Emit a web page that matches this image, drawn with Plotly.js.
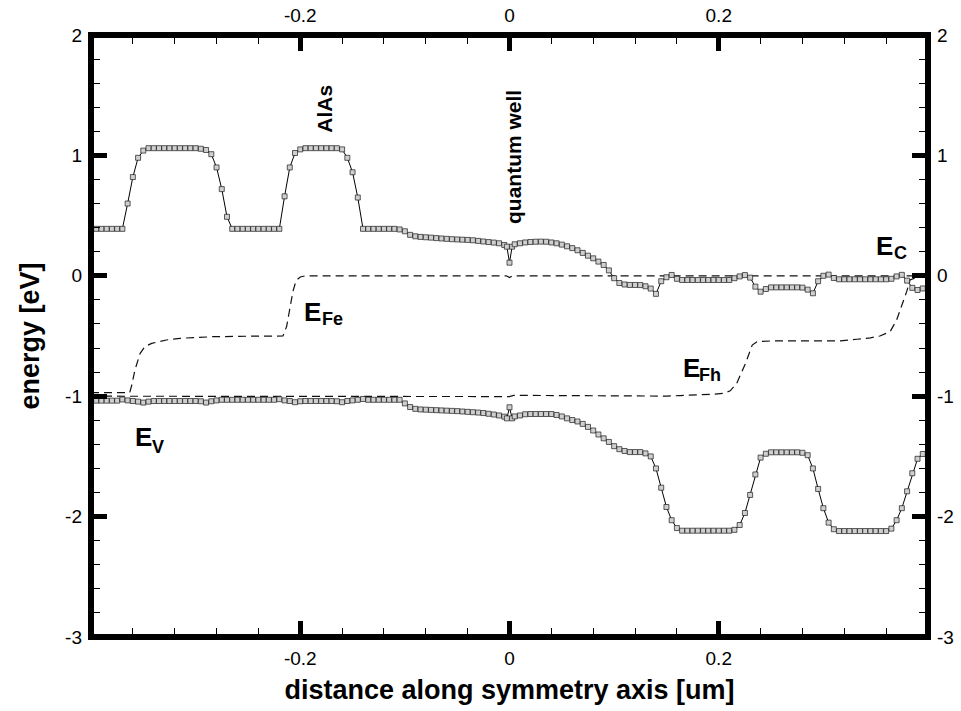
<!DOCTYPE html>
<html>
<head>
<meta charset="utf-8">
<script src="https://cdn.plot.ly/plotly-3.0.1.min.js"></script>
<style>
  html, body { margin: 0; padding: 0; background: #fff; }
  #chart { width: 961px; height: 711px; }
</style>
</head>
<body>
<div id="chart"></div>
<script>
// Mesh positions along the symmetry axis [um]
const dist = [
  -0.400,-0.395,-0.390,-0.385,-0.380,-0.375,-0.370,-0.365,-0.360,-0.355,
  -0.350,-0.345,-0.340,-0.335,-0.330,-0.325,-0.320,-0.315,-0.310,-0.305,
  -0.300,-0.295,-0.290,-0.285,-0.280,-0.275,-0.270,-0.265,-0.260,-0.255,
  -0.250,-0.245,-0.240,-0.235,-0.230,-0.225,-0.220,-0.215,-0.210,-0.205,
  -0.200,-0.195,-0.190,-0.185,-0.180,-0.175,-0.170,-0.165,-0.160,-0.155,
  -0.150,-0.145,-0.140,-0.135,-0.130,-0.125,-0.120,-0.115,-0.110,-0.105,
  -0.100,-0.095,-0.090,-0.085,-0.080,-0.075,-0.070,-0.065,-0.060,-0.055,
  -0.050,-0.045,-0.040,-0.035,-0.030,-0.025,-0.020,-0.015,-0.010,-0.005,
  -0.0025,0,0.0025,
  0.005,0.010,0.015,0.020,0.025,0.030,0.035,0.040,0.045,0.050,
  0.055,0.060,0.065,0.070,0.075,0.080,0.085,0.090,0.095,0.100,
  0.105,0.110,0.115,0.120,0.125,0.130,0.135,0.140,0.145,0.150,
  0.155,0.160,0.165,0.170,0.175,0.180,0.185,0.190,0.195,0.200,
  0.205,0.210,0.215,0.220,0.225,0.230,0.235,0.240,0.245,0.250,
  0.255,0.260,0.265,0.270,0.275,0.280,0.285,0.290,0.295,0.300,
  0.305,0.310,0.315,0.320,0.325,0.330,0.335,0.340,0.345,0.350,
  0.355,0.360,0.365,0.370,0.375,0.380,0.385,0.390,0.395,0.400
];

// Conduction band edge E_C [eV]
const ec = [
  0.39,0.39,0.39,0.39,0.39,0.39,0.39,0.60,0.82,0.98,
  1.04,1.06,1.06,1.06,1.06,1.06,1.06,1.06,1.06,1.06,
  1.06,1.055,1.045,1.01,0.90,0.72,0.49,0.39,0.39,0.39,
  0.39,0.39,0.39,0.39,0.39,0.39,0.39,0.66,0.90,1.02,
  1.05,1.06,1.06,1.06,1.06,1.06,1.06,1.06,1.05,0.98,
  0.86,0.65,0.39,0.39,0.39,0.39,0.39,0.39,0.39,0.385,
  0.37,0.34,0.328,0.323,0.32,0.317,0.313,0.31,0.307,0.304,
  0.302,0.30,0.298,0.295,0.29,0.285,0.28,0.276,0.27,0.256,
  0.242,0.109,0.242,
  0.262,0.27,0.277,0.281,0.283,0.284,0.283,0.277,0.27,0.259,
  0.245,0.23,0.212,0.19,0.167,0.145,0.118,0.09,0.045,-0.02,
  -0.06,-0.072,-0.076,-0.076,-0.077,-0.087,-0.106,-0.15,-0.045,-0.012,
  0.007,-0.025,-0.035,-0.035,-0.035,-0.035,-0.035,-0.035,-0.035,-0.035,
  -0.035,-0.035,-0.02,-0.005,0.006,-0.015,-0.09,-0.132,-0.11,-0.096,
  -0.096,-0.096,-0.096,-0.096,-0.096,-0.098,-0.115,-0.145,-0.045,0.0,
  0.01,-0.018,-0.029,-0.029,-0.029,-0.029,-0.029,-0.029,-0.029,-0.029,
  -0.029,-0.029,-0.025,-0.005,0.008,-0.04,-0.10,-0.118,-0.105,-0.10
];

// Valence band edge E_V [eV]
const ev = [
  -1.037,-1.037,-1.037,-1.037,-1.037,-1.037,-1.027,-1.035,-1.04,-1.045,
  -1.053,-1.045,-1.04,-1.04,-1.04,-1.04,-1.04,-1.04,-1.04,-1.04,
  -1.04,-1.042,-1.053,-1.042,-1.035,-1.03,-1.03,-1.03,-1.03,-1.03,
  -1.03,-1.03,-1.03,-1.03,-1.03,-1.03,-1.025,-1.035,-1.04,-1.05,
  -1.042,-1.04,-1.04,-1.04,-1.04,-1.04,-1.04,-1.042,-1.05,-1.04,
  -1.035,-1.03,-1.023,-1.03,-1.03,-1.03,-1.03,-1.03,-1.03,-1.03,
  -1.06,-1.09,-1.105,-1.11,-1.112,-1.114,-1.116,-1.118,-1.12,-1.122,
  -1.124,-1.127,-1.13,-1.133,-1.136,-1.14,-1.146,-1.152,-1.16,-1.17,
  -1.184,-1.092,-1.184,
  -1.168,-1.16,-1.15,-1.148,-1.148,-1.148,-1.148,-1.148,-1.156,-1.168,
  -1.184,-1.198,-1.21,-1.23,-1.255,-1.285,-1.318,-1.35,-1.38,-1.415,
  -1.44,-1.455,-1.464,-1.464,-1.464,-1.475,-1.5,-1.6,-1.76,-1.92,
  -2.03,-2.095,-2.117,-2.117,-2.117,-2.117,-2.117,-2.117,-2.117,-2.117,
  -2.117,-2.117,-2.11,-2.07,-1.97,-1.82,-1.65,-1.51,-1.478,-1.466,
  -1.466,-1.466,-1.466,-1.466,-1.466,-1.47,-1.49,-1.6,-1.77,-1.93,
  -2.05,-2.105,-2.12,-2.12,-2.12,-2.12,-2.12,-2.12,-2.12,-2.12,
  -2.12,-2.12,-2.1,-2.03,-1.93,-1.79,-1.64,-1.52,-1.48,-1.47
];

// Electron quasi-Fermi level E_Fe [eV]
const distFe = [-0.400,-0.380,-0.363,-0.361,-0.358,-0.353,-0.3485,-0.342,-0.328,-0.315,
  -0.2835,-0.250,-0.2165,-0.213,-0.210,-0.207,-0.204,-0.200,-0.195,-0.100,
  -0.003,0,0.003,0.100,0.200,0.300,0.400];
const eFe = [-0.97,-0.97,-0.97,-0.907,-0.782,-0.644,-0.589,-0.561,-0.533,-0.519,
  -0.506,-0.502,-0.50,-0.42,-0.28,-0.13,-0.04,-0.01,0,0,
  0,-0.015,0,0,0,0,0];

// Hole quasi-Fermi level E_Fh [eV]
const distFh = [-0.400,-0.200,-0.100,-0.003,0,0.004,0.100,0.150,0.163,0.180,
  0.195,0.205,0.211,0.2172,0.2256,0.232,0.2366,0.250,0.3164,0.332,
  0.345,0.354,0.3638,0.370,0.3748,0.3796,0.3828,0.390,0.400];
const eFh = [-1.0,-1.0,-1.0,-1.0,-1.003,-0.993,-1.0,-0.999,-0.995,-0.99,
  -0.983,-0.975,-0.955,-0.893,-0.727,-0.575,-0.547,-0.541,-0.541,-0.527,
  -0.515,-0.50,-0.464,-0.367,-0.256,-0.132,-0.035,-0.01,0];

// Axis ranges and tick labels
const xRange = [-0.4, 0.4];
const yRange = [-3, 2];
const xTicks = [-0.2, 0, 0.2];
const xTickText = ['-0.2', '0', '0.2'];
const yTicks = [-3, -2, -1, 0, 1, 2];
const yTickText = ['-3', '-2', '-1', '0', '1', '2'];

const FONT = 'Liberation Sans, Arial, Helvetica, sans-serif';

const bandMarker = {
  symbol: 'square', size: 5, color: '#cfcfcf',
  line: { color: '#1a1a1a', width: 0.7 }
};
const fermiLine = { color: '#111', width: 1.2, dash: '8px,5px' };

const traces = [
  { x: distFe, y: eFe, mode: 'lines', line: fermiLine, hoverinfo: 'skip', showlegend: false },
  { x: distFh, y: eFh, mode: 'lines', line: fermiLine, hoverinfo: 'skip', showlegend: false },
  { x: dist, y: ec, mode: 'lines+markers', line: { color: '#000', width: 1 },
    marker: bandMarker, showlegend: false },
  { x: dist, y: ev, mode: 'lines+markers', line: { color: '#000', width: 1 },
    marker: bandMarker, showlegend: false },
  // carrier for the mirrored top/right axes
  { x: xRange, y: yRange, xaxis: 'x2', yaxis: 'y2', mode: 'markers',
    marker: { opacity: 0 }, hoverinfo: 'skip', showlegend: false }
];

const majorTick = { ticks: 'inside', ticklen: 16, tickwidth: 5, tickcolor: '#000' };
const tickFont = { family: FONT, size: 19, color: '#000' };

function xAxisBase() {
  return Object.assign({
    range: xRange, tickmode: 'array', tickvals: xTicks, ticktext: xTickText,
    showgrid: false, zeroline: false, showline: false, fixedrange: true,
    tickfont: tickFont, ticklabelstandoff: 8,
    minor: { ticks: 'inside', ticklen: 9, tickwidth: 1, tickcolor: '#000',
             dtick: 0.04, tick0: 0, showgrid: false }
  }, majorTick);
}
function yAxisBase() {
  return Object.assign({
    range: yRange, tickmode: 'array', tickvals: yTicks, ticktext: yTickText,
    showgrid: false, zeroline: false, showline: false, fixedrange: true,
    tickfont: tickFont, ticklabelstandoff: 8,
    minor: { ticks: 'inside', ticklen: 9, tickwidth: 1, tickcolor: '#000',
             dtick: 0.2, tick0: 0, showgrid: false }
  }, majorTick);
}

const xaxis = xAxisBase();
xaxis.title = { text: 'distance along symmetry axis [um]',
  font: { family: FONT, size: 27, weight: 'bold', color: '#000' }, standoff: 12 };
const yaxis = yAxisBase();
yaxis.title = { text: 'energy [eV]',
  font: { family: FONT, size: 27, weight: 'bold', color: '#000' }, standoff: 17 };
const xaxis2 = xAxisBase();
Object.assign(xaxis2, { overlaying: 'x', side: 'top', anchor: 'y' });
const yaxis2 = yAxisBase();
Object.assign(yaxis2, { overlaying: 'y', side: 'right', anchor: 'x' });

function label(text, x, y, size, angle) {
  return { text: text, x: x, y: y, xref: 'x', yref: 'y', showarrow: false,
    xanchor: 'center', yanchor: 'middle', textangle: angle || 0,
    font: { family: FONT, size: size, weight: 'bold', color: '#000' } };
}

const annotations = [
  label('AlAs', -0.1776, 1.385, 21, -90),
  label('quantum well', 0.0043, 0.987, 21, -90),
  label('E', 0.358, 0.2475, 26), label('C', 0.3733, 0.1935, 18),
  label('E', -0.1879, -0.301, 26), label('Fe', -0.1695, -0.362, 18),
  label('E', 0.1742, -0.762, 26), label('Fh', 0.1917, -0.824, 18),
  label('E', -0.3494, -1.339, 26), label('V', -0.3358, -1.419, 18)
];

const layout = {
  width: 961, height: 711,
  margin: { l: 91, r: 33, t: 35, b: 74, pad: 0 },
  paper_bgcolor: '#fff', plot_bgcolor: '#fff',
  font: { family: FONT, color: '#000' },
  xaxis: xaxis, yaxis: yaxis, xaxis2: xaxis2, yaxis2: yaxis2,
  showlegend: false,
  annotations: annotations,
  shapes: [{ type: 'rect', xref: 'paper', yref: 'paper', x0: 0, x1: 1, y0: 0, y1: 1,
    line: { color: '#000', width: 6 }, layer: 'above' }]
};

Plotly.newPlot('chart', traces, layout, { staticPlot: true, displayModeBar: false });
</script>
</body>
</html>
